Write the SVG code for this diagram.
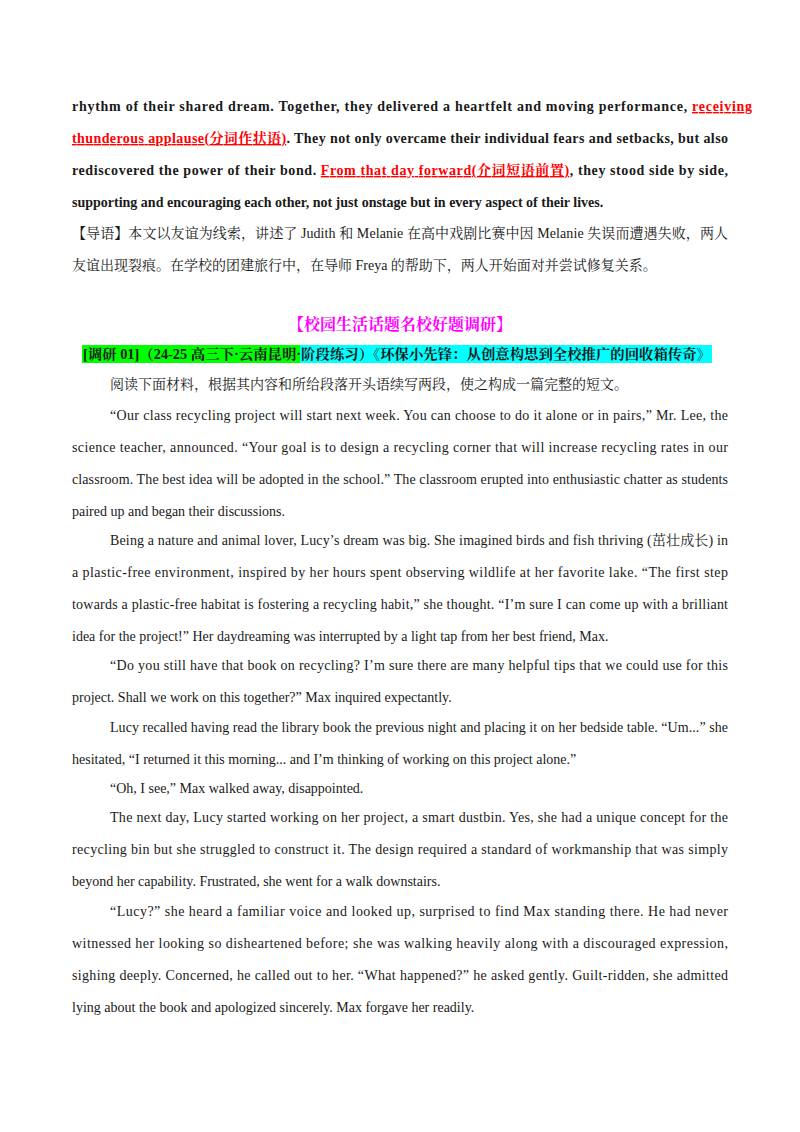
<svg xmlns="http://www.w3.org/2000/svg" width="800" height="1132" viewBox="0 0 800 1132">
<style>
text{font-family:"Liberation Serif","Noto Serif CJK SC","Noto Sans CJK SC",serif;font-size:14px;fill:#1a1a1a}
.b{font-weight:bold}
.r{fill:#ff0000;text-decoration:underline}
.h{font-weight:bold;fill:#ff00ff;font-size:16px}
</style>
<rect width="800" height="1132" fill="#fff"/>
<g id="top">
<text class="b" x="72" y="111" textLength="680" lengthAdjust="spacing">rhythm of their shared dream. Together, they delivered a heartfelt and moving performance, <tspan class="r">receiving  </tspan></text>
<text class="b" x="72" y="143" textLength="656" lengthAdjust="spacing"><tspan class="r">thunderous applause(分词作状语)</tspan>. They not only overcame their individual fears and setbacks, but also</text>
<text class="b" x="72" y="175" textLength="656" lengthAdjust="spacing">rediscovered the power of their bond. <tspan class="r">From that day forward(介词短语前置)</tspan>, they stood side by side,</text>
<text class="b" x="72" y="207">supporting and encouraging each other, not just onstage but in every aspect of their lives.</text>
<text x="72" y="238" textLength="656" lengthAdjust="spacing">【导语】本文以友谊为线索，讲述了 Judith 和 Melanie 在高中戏剧比赛中因 Melanie 失误而遭遇失败，两人</text>
<text x="72" y="270">友谊出现裂痕。在学校的团建旅行中，在导师 Freya 的帮助下，两人开始面对并尝试修复关系。</text>
</g>
<g id="heading">
<text class="h" x="400" y="330" text-anchor="middle">【校园生活话题名校好题调研】</text>
<rect x="82" y="345" width="218" height="18" fill="#00ff00"/>
<rect x="300" y="345" width="412" height="18" fill="#00ffff"/>
<text class="b" x="83" y="359" textLength="628" lengthAdjust="spacingAndGlyphs">[调研 01]（24-25 高三下·云南昆明·阶段练习）《环保小先锋：从创意构思到全校推广的回收箱传奇》</text>
</g>
<g id="body">
<text x="110" y="389">阅读下面材料，根据其内容和所给段落开头语续写两段，使之构成一篇完整的短文。</text>
<text x="110" y="420" textLength="618" lengthAdjust="spacing">“Our class recycling project will start next week. You can choose to do it alone or in pairs,” Mr. Lee, the</text>
<text x="72" y="452" textLength="656" lengthAdjust="spacing">science teacher, announced. “Your goal is to design a recycling corner that will increase recycling rates in our</text>
<text x="72" y="484" textLength="656" lengthAdjust="spacing">classroom. The best idea will be adopted in the school.” The classroom erupted into enthusiastic chatter as students</text>
<text x="72" y="516">paired up and began their discussions.</text>
<text x="110" y="545" textLength="618" lengthAdjust="spacing">Being a nature and animal lover, Lucy’s dream was big. She imagined birds and fish thriving (茁壮成长) in</text>
<text x="72" y="577" textLength="656" lengthAdjust="spacing">a plastic-free environment, inspired by her hours spent observing wildlife at her favorite lake. “The first step</text>
<text x="72" y="609" textLength="656" lengthAdjust="spacing">towards a plastic-free habitat is fostering a recycling habit,” she thought. “I’m sure I can come up with a brilliant</text>
<text x="72" y="641">idea for the project!” Her daydreaming was interrupted by a light tap from her best friend, Max.</text>
<text x="110" y="670" textLength="618" lengthAdjust="spacing">“Do you still have that book on recycling? I’m sure there are many helpful tips that we could use for this</text>
<text x="72" y="702">project. Shall we work on this together?” Max inquired expectantly.</text>
<text x="110" y="732" textLength="618" lengthAdjust="spacing">Lucy recalled having read the library book the previous night and placing it on her bedside table. “Um...” she</text>
<text x="72" y="764">hesitated, “I returned it this morning... and I’m thinking of working on this project alone.”</text>
<text x="110" y="793">“Oh, I see,” Max walked away, disappointed.</text>
<text x="110" y="822" textLength="618" lengthAdjust="spacing">The next day, Lucy started working on her project, a smart dustbin. Yes, she had a unique concept for the</text>
<text x="72" y="854" textLength="656" lengthAdjust="spacing">recycling bin but she struggled to construct it. The design required a standard of workmanship that was simply</text>
<text x="72" y="886">beyond her capability. Frustrated, she went for a walk downstairs.</text>
<text x="110" y="916" textLength="618" lengthAdjust="spacing">“Lucy?” she heard a familiar voice and looked up, surprised to find Max standing there. He had never</text>
<text x="72" y="948" textLength="656" lengthAdjust="spacing">witnessed her looking so disheartened before; she was walking heavily along with a discouraged expression,</text>
<text x="72" y="980" textLength="656" lengthAdjust="spacing">sighing deeply. Concerned, he called out to her. “What happened?” he asked gently. Guilt-ridden, she admitted</text>
<text x="72" y="1012">lying about the book and apologized sincerely. Max forgave her readily.</text>
</g>
</svg>
